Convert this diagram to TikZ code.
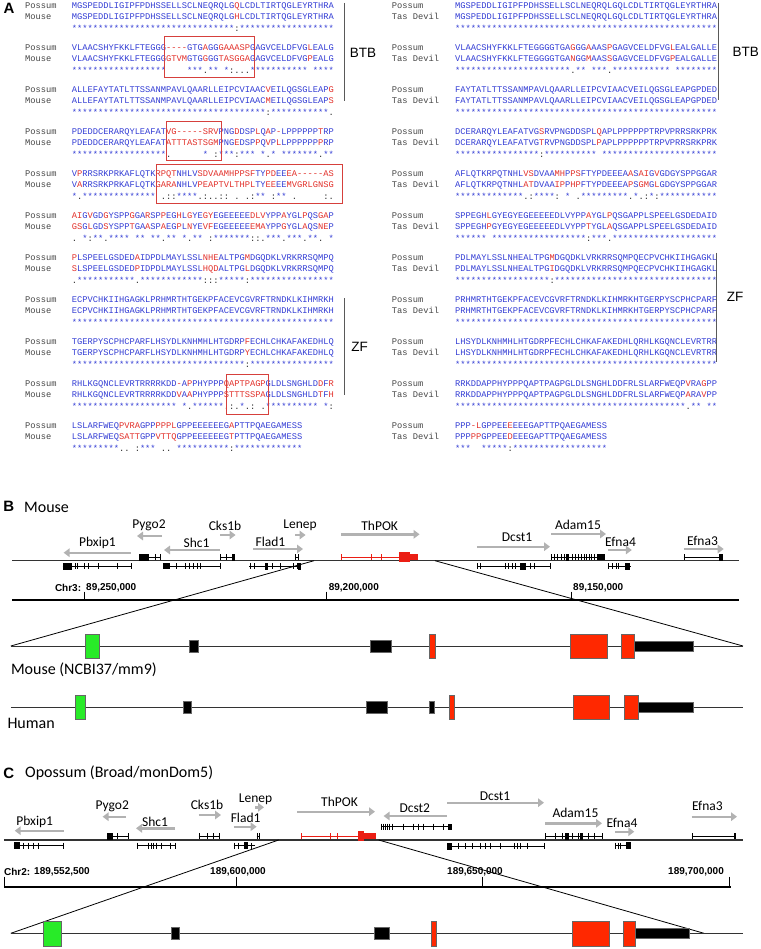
\documentclass[tikz,border=0pt]{standalone}
\usepackage{fontspec}
\setmainfont{Liberation Sans}
\setmonofont{Liberation Mono}
\newfontfamily\calfont{Carlito}
\usepackage{xcolor}
\usetikzlibrary{arrows.meta}

\definecolor{seqblue}{RGB}{50,60,212}
\definecolor{seqred}{RGB}{226,48,42}
\definecolor{consblack}{RGB}{40,40,40}
\definecolor{namegray}{RGB}{70,70,70}
\definecolor{boxred}{RGB}{214,64,60}
\definecolor{arrowgray}{RGB}{178,178,178}
\definecolor{exgreen}{RGB}{40,235,40}
\definecolor{exred}{RGB}{255,40,0}
\definecolor{thpokred}{RGB}{235,30,20}

\newcommand{\seqfont}{\ttfamily\fontsize{8.73}{10}\selectfont}
\newcommand{\rd}[1]{\textcolor{seqred}{#1}}
\newcommand{\bk}[1]{\textcolor{consblack}{#1}}
\ExplSyntaxOn
\cs_new:Npn \stars #1 { \prg_replicate:nn {#1} {*} }
\cs_new:Npn \gaps #1 { \prg_replicate:nn {#1} {\nobreakspace} }
\ExplSyntaxOff
\newcommand{\labx}{25}
\newcommand{\resx}{71.7}
% id, baseline, name, residues, name, residues, consensus
\newcommand{\alnblock}[7]{%
  \node[seqname] (#1a) at (\labx,#2) {#3};
  \node[seq] (#1b) at (\resx,#2) {#4};
  \node[seqname] (#1c) at (\labx,#2+10.5) {#5};
  \node[seq] (#1d) at (\resx,#2+10.5) {#6};
  \node[seq] (#1e) at (\resx,#2+22.5) {#7};}
% gene body: [colour] y, from, to, exon ticks
\newcommand{\genebody}[5][black]{%
  \draw[gbody,draw=#1] (#3,#2) -- (#4,#2);
  \foreach \tx in {#5} \draw[gtick,draw=#1] (\tx,#2-3) -- (\tx,#2+3);}
% coding block: [colour] y, from, to, half height
\newcommand{\exblock}[5][black]{\fill[#1] (#3,#2-#5) rectangle (#4,#2+#5);}

\begin{document}
\begin{tikzpicture}[
    x=1pt, y=-1pt,
    seq/.style={anchor=base west, inner sep=0pt, font=\seqfont, text=seqblue},
    seqname/.style={anchor=base west, inner sep=0pt, font=\seqfont, text=namegray},
    hitbox/.style={draw=boxred, line width=0.9pt},
    dombar/.style={draw=black!65, line width=0.9pt},
    domlabel/.style={font=\fontsize{13.5}{14}\selectfont, inner sep=0pt},
    panellabel/.style={font=\bfseries\fontsize{15}{16}\selectfont, inner sep=0pt},
    heading/.style={font=\calfont\fontsize{16}{17}\selectfont, anchor=west, inner sep=0pt},
    gname/.style={font=\calfont\fontsize{13.5}{14}\selectfont, inner sep=0pt},
    dirarrow/.style={draw=arrowgray, line width=2.4pt, -{Triangle[length=6pt,width=8.5pt]}},
    chrom/.style={draw=black!80, line width=1.1pt},
    scalebar/.style={draw=black, line width=2.2pt},
    scaletick/.style={draw=black, line width=0.8pt},
    coordlabel/.style={font=\bfseries\fontsize{10}{11}\selectfont, anchor=west, inner sep=0pt},
    zoomline/.style={draw=black, line width=0.8pt},
    model/.style={draw=black!80, line width=1pt},
    exon/.style={draw=black!60, line width=0.5pt},
    gbody/.style={line width=0.8pt},
    gtick/.style={line width=0.9pt}
  ]
  \useasboundingbox (0,0) rectangle (760,949);

  % Panel A, possum vs mouse
  \node[panellabel] (pa) at (9,8.7) {A};
  \alnblock{l1}{8.7}{Possum}{MGSPEDDLIGIPFPDHSSELLSCLNEQRQLG\rd{Q}LCDLTIRTQGLEYRTHRA}{Mouse}{MGSPEDDLIGIPFPDHSSELLSCLNEQRQLG\rd{H}LCDLTIRTQGLEYRTHRA}{\stars{31}\bk{:}\stars{18}}
  \alnblock{l2}{50.7}{Possum}{VLAACSHYFKKLFTEGGG\rd{----}GTG\rd{A}GG\rd{GAAASP}GAGVCELDFVG\rd{L}EALG}{Mouse}{VLAACSHYFKKLFTEGGG\rd{GTVM}GTG\rd{G}GG\rd{TASGGA}GAGVCELDFVG\rd{P}EALG}{\stars{18}\gaps{4}***\bk{.}**\gaps{1}*\bk{:...}\stars{11}\gaps{1}****}
  \alnblock{l3}{92.7}{Possum}{ALLEFAYTATLTTSSANMPAVLQAARLLEIPCVIAAC\rd{V}EILQGSGLEAP\rd{G}}{Mouse}{ALLEFAYTATLTTSSANMPAVLQAARLLEIPCVIAAC\rd{M}EILQGSGLEAP\rd{S}}{\stars{37}\bk{:}\stars{11}\bk{.}}
  \alnblock{l4}{134.7}{Possum}{PDEDDCERARQYLEAFAT\rd{VG-----SRV}PNG\rd{D}DSP\rd{L}Q\rd{A}P\rd{-}LPPPPPP\rd{T}RP}{Mouse}{PDEDDCERARQYLEAFAT\rd{ATTTASTSGM}PNG\rd{E}DSP\rd{P}Q\rd{V}P\rd{L}LPPPPPP\rd{P}RP}{\stars{18}\bk{.}\gaps{6}*\gaps{1}\bk{:}***\bk{:}***\gaps{1}*\bk{.}*\gaps{1}\stars{7}\bk{.}**}
  \alnblock{l5}{176.7}{Possum}{V\rd{P}RRSRKPRKAFLQTK\rd{RPQT}NHLV\rd{SDVAAMHPPSF}TY\rd{PD}EE\rd{EA-----AS}}{Mouse}{V\rd{A}RRSRKPRKAFLQTK\rd{GARA}NHLV\rd{PEAPTVLTHPL}TY\rd{EE}EE\rd{MVGRLGNSG}}{*\bk{.}\stars{14}\gaps{1}\bk{.::}****\bk{.:..::}\gaps{1}\bk{.}\gaps{1}\bk{.:}**\gaps{1}\bk{:}**\gaps{1}\bk{.}\gaps{5}\bk{:.}}
  \alnblock{l6}{218.7}{Possum}{\rd{AI}G\rd{V}GD\rd{G}YSPP\rd{G}GA\rd{R}SP\rd{P}EG\rd{H}L\rd{G}YE\rd{GY}EGEEEEE\rd{DLV}YPP\rd{A}YGL\rd{P}QS\rd{GA}P}{Mouse}{\rd{GS}G\rd{L}GD\rd{S}YSPP\rd{T}GA\rd{A}SP\rd{A}EG\rd{P}L\rd{N}YE\rd{VF}EGEEEEE\rd{EMA}YPP\rd{G}YGL\rd{A}QS\rd{NE}P}{\bk{.}\gaps{1}*\bk{:}**\bk{.}****\gaps{1}**\gaps{1}**\bk{.}**\gaps{1}*\bk{.}**\gaps{1}\bk{:}\stars{7}\bk{::.}***\bk{.}***\bk{.}**\bk{.}\gaps{1}*}
  \alnblock{l7}{260.7}{Possum}{\rd{P}LSPEELGSDED\rd{A}IDPDLMAYLSSL\rd{NHE}ALTPG\rd{M}DGQDKLVRKRRSQMPQ}{Mouse}{\rd{S}LSPEELGSDED\rd{P}IDPDLMAYLSSL\rd{HQD}ALTPG\rd{L}DGQDKLVRKRRSQMPQ}{\bk{.}\stars{11}\bk{.}\stars{12}\bk{:::}\stars{5}\bk{:}\stars{16}}
  \alnblock{l8}{302.7}{Possum}{ECPVCHKIIHGAGKLPRHMRTHTGEKPFACEVCGVRFTRNDKLKIHMRKH}{Mouse}{ECPVCHKIIHGAGKLPRHMRTHTGEKPFACEVCGVRFTRNDKLKIHMRKH}{\stars{50}}
  \alnblock{l9}{344.7}{Possum}{TGERPYSCPHCPARFLHSYDLKNHMHLHTGDRP\rd{F}ECHLCHKAFAKEDHLQ}{Mouse}{TGERPYSCPHCPARFLHSYDLKNHMHLHTGDRP\rd{Y}ECHLCHKAFAKEDHLQ}{\stars{33}\bk{:}\stars{16}}
  \alnblock{l10}{386.7}{Possum}{RHLKGQNCLEVRTRRRRKDD\rd{-}A\rd{P}PHYPPP\rd{QAPTPAGP}GLDLSNGHLD\rd{D}F\rd{R}}{Mouse}{RHLKGQNCLEVRTRRRRKDD\rd{V}A\rd{A}PHYPPP\rd{STTTSSPA}GLDLSNGHLD\rd{T}F\rd{H}}{\stars{20}\gaps{1}*\bk{.}\stars{6}\bk{.:.}*\bk{.:}\gaps{1}\bk{.}\stars{10}\gaps{1}*\bk{:}}
  \alnblock{l11}{428.7}{Possum}{LSLARFWEQ\rd{PVRA}GPP\rd{PPPL}GPPEEEEEEG\rd{A}PTTPQAEGAMESS}{Mouse}{LSLARFWEQ\rd{SATT}GPP\rd{VTTQ}GPPEEEEEEG\rd{T}PTTPQAEGAMESS}{\stars{9}\bk{..}\gaps{1}\bk{:}***\gaps{1}\bk{..}\gaps{1}\stars{10}\bk{:}\stars{13}}

  \draw[hitbox] (164,36.7) rectangle (254,77.7);
  \draw[hitbox] (166.7,121) rectangle (221.7,160.7);
  \draw[hitbox] (156.7,164) rectangle (342.3,203.3);
  \draw[hitbox] (226,374) rectangle (268.7,414);

  \draw[dombar] (344,3) -- (344,101);
  \node[domlabel] (btbl) at (363,52.7) {BTB};
  \draw[dombar] (344,298) -- (344,395);
  \node[domlabel] (zfl) at (359.5,346.7) {ZF};

  % Panel A, possum vs Tasmanian devil
  \renewcommand{\labx}{391.7}
  \renewcommand{\resx}{455}
  \alnblock{r1}{8.7}{Possum}{MGSPEDDLIGIPFPDHSSELLSCLNEQRQLGQLCDLTIRTQGLEYRTHRA}{Tas Devil}{MGSPEDDLIGIPFPDHSSELLSCLNEQRQLGQLCDLTIRTQGLEYRTHRA}{\stars{50}}
  \alnblock{r2}{50.7}{Possum}{VLAACSHYFKKLFTEGGGGTGA\rd{G}GG\rd{A}AAS\rd{P}GAGVCELDFVG\rd{L}EALGALLE}{Tas Devil}{VLAACSHYFKKLFTEGGGGTGA\rd{N}GG\rd{M}AAS\rd{S}GAGVCELDFVG\rd{P}EALGALLE}{\stars{22}\bk{.}**\gaps{1}***\bk{.}\stars{11}\gaps{1}\stars{8}}
  \alnblock{r3}{92.7}{Possum}{FAYTATLTTSSANMPAVLQAARLLEIPCVIAACVEILQGSGLEAPGPDED}{Tas Devil}{FAYTATLTTSSANMPAVLQAARLLEIPCVIAACVEILQGSGLEAPGPDED}{\stars{50}}
  \alnblock{r4}{134.7}{Possum}{DCERARQYLEAFATVG\rd{S}RVPNGDDSPL\rd{Q}APLPPPPPPTRPVPRRSRKPRK}{Tas Devil}{DCERARQYLEAFATVG\rd{T}RVPNGDDSPL\rd{P}APLPPPPPPTRPVPRRSRKPRK}{\stars{16}\bk{:}\stars{10}\gaps{1}\stars{22}}
  \alnblock{r5}{176.7}{Possum}{AFLQTKRPQTNHL\rd{VS}DVAA\rd{MH}P\rd{PS}FTYPDEEEA\rd{A}S\rd{AI}G\rd{V}GDGYSPPGGAR}{Tas Devil}{AFLQTKRPQTNHL\rd{AT}DVAA\rd{IP}P\rd{HP}FTYPDEEEA\rd{P}S\rd{GM}G\rd{L}GDGYSPPGGAR}{\stars{13}\bk{.:}****\bk{:}\gaps{1}*\gaps{1}\bk{.}\stars{9}\bk{.}*\bk{.:}*\bk{:}\stars{11}}
  \alnblock{r6}{218.7}{Possum}{SPPEGH\rd{L}GYEGYEGEEEEEDLVYPP\rd{A}YGL\rd{P}QSGAPPLSPEELGSDEDAID}{Tas Devil}{SPPEGH\rd{P}GYEGYEGEEEEEDLVYPP\rd{T}YGL\rd{A}QSGAPPLSPEELGSDEDAID}{\stars{6}\gaps{1}\stars{18}\bk{:}***\bk{.}\stars{20}}
  \alnblock{r7}{260.7}{Possum}{PDLMAYLSSLNHEALTPG\rd{M}DGQDKLVRKRRSQMPQECPVCHKIIHGAGKL}{Tas Devil}{PDLMAYLSSLNHEALTPG\rd{I}DGQDKLVRKRRSQMPQECPVCHKIIHGAGKL}{\stars{18}\bk{:}\stars{31}}
  \alnblock{r8}{302.7}{Possum}{PRHMRTHTGEKPFACEVCGVRFTRNDKLKIHMRKHTGERPYSCPHCPARF}{Tas Devil}{PRHMRTHTGEKPFACEVCGVRFTRNDKLKIHMRKHTGERPYSCPHCPARF}{\stars{50}}
  \alnblock{r9}{344.7}{Possum}{LHSYDLKNHMHLHTGDRPFECHLCHKAFAKEDHLQRHLKGQNCLEVRTRR}{Tas Devil}{LHSYDLKNHMHLHTGDRPFECHLCHKAFAKEDHLQRHLKGQNCLEVRTRR}{\stars{50}}
  \alnblock{r10}{386.7}{Possum}{RRKDDAPPHYPPPQAPTPAGPGLDLSNGHLDDFRLSLARFWEQP\rd{V}RA\rd{G}PP}{Tas Devil}{RRKDDAPPHYPPPQAPTPAGPGLDLSNGHLDDFRLSLARFWEQP\rd{A}RA\rd{V}PP}{\stars{44}\bk{.}**\gaps{1}**}
  \alnblock{r11}{428.7}{Possum}{PPP\rd{-L}GPPEE\rd{E}EEEGAPTTPQAEGAMESS}{Tas Devil}{PPP\rd{PP}GPPEE\rd{D}EEEGAPTTPQAEGAMESS}{***\gaps{2}\stars{5}\bk{:}\stars{18}}

  \draw[dombar] (718.3,3) -- (718.3,100);
  \node[domlabel] (btbr) at (745.8,51.7) {BTB};
  \draw[dombar] (716.7,253) -- (716.7,361.7);
  \node[domlabel] (zfr) at (735,296.7) {ZF};

  % Panel B, mouse locus
  \node[panellabel] (pb) at (8.9,506.7) {B};
  \node[heading] (hb) at (24,507) {Mouse};
  \draw[chrom] (12,560.7) -- (739,560.7);

  \draw[dirarrow] (131,552.7) -- (63.6,552.7);
  \node[gname] (bpbx) at (97.5,543.3) {Pbxip1};
  \draw[dirarrow] (162,536) -- (137,536);
  \node[gname] (bpyg) at (149,525.7) {Pygo2};
  \draw[dirarrow] (220,550) -- (164,550);
  \node[gname] (bshc) at (196.5,542.7) {Shc1};
  \draw[dirarrow] (220,535) -- (235.6,535);
  \node[gname] (bcks) at (225,525.7) {Cks1b};
  \draw[dirarrow] (253,549) -- (303,549);
  \node[gname] (bfla) at (270.5,541.7) {Flad1};
  \draw[dirarrow] (295,535) -- (305.6,535);
  \node[gname] (blen) at (300,525.7) {Lenep};
  \draw[dirarrow] (340.8,534.3) -- (419.6,534.3);
  \node[gname] (bthp) at (379.7,525.7) {ThPOK};
  \draw[dirarrow] (476.8,546.7) -- (550,546.7);
  \node[gname] (bdc1) at (517,537.3) {Dcst1};
  \draw[dirarrow] (551,534) -- (606,534);
  \node[gname] (bada) at (578,525) {Adam15};
  \draw[dirarrow] (607.8,550) -- (631.8,550);
  \node[gname] (bef4) at (620.5,542.3) {Efna4};
  \draw[dirarrow] (683.6,549) -- (723.7,549);
  \node[gname] (bef3) at (702.5,540.7) {Efna3};

  \genebody{566}{62.6}{131}{75.5,77,84,88,98,117,131}
  \exblock{566}{62.6}{72}{3.5}
  \genebody{557}{139}{161}{155,160}
  \exblock{557}{139}{149}{3.5}
  \genebody{566}{163}{220}{176,185,189,193,197,200,220}
  \exblock{566}{163}{170}{3}
  \genebody{557}{220}{235}{220.5,226}
  \exblock{557}{231.5}{235}{3.5}
  \genebody{566}{249}{301}{250,254,272,280,293,297}
  \exblock{566}{265}{268}{3.5}
  \exblock{566}{298}{301}{3.5}
  \genebody{557}{295}{299}{295.5,298.5}
  \genebody[thpokred]{557}{340.8}{411}{341,371.6,381.4}
  \exblock[thpokred]{557}{398.5}{410}{5}
  \exblock[thpokred]{557}{410}{418}{3}
  \genebody{566}{476.8}{550}{477.5,480,505,508,512,515,530,534,550}
  \exblock{566}{520}{526}{3.5}
  \genebody{557}{551}{605}{551.5,554,557,561,564,572,575,578,581,584,586.5,589,591.5,594}
  \exblock{557}{566}{569}{3.5}
  \exblock{557}{597}{605}{3}
  \genebody{566}{607.8}{630.6}{608,612,616,618.5}
  \exblock{566}{625}{630}{3.5}
  \genebody{557}{683.6}{723}{684}
  \exblock{557}{718.5}{723}{3.5}

  % scale
  \draw[scalebar] (12,600) -- (739,600);
  \foreach \sx in {84,326.6,571} \draw[scaletick] (\sx,591.7) -- (\sx,600);
  \node[coordlabel] (bchr) at (54.8,587.7) {Chr3:};
  \node[coordlabel] (bs1) at (86,587.7) {89,250,000};
  \node[coordlabel] (bs2) at (328.6,587.7) {89,200,000};
  \node[coordlabel] (bs3) at (573,587.7) {89,150,000};

  % zoom onto ThPOK
  \coordinate (bzl) at (314,560.7);
  \coordinate (bzr) at (435,560.7);
  \coordinate (mml) at (10.8,646);
  \coordinate (mmr) at (743,646);
  \draw[zoomline] (bzl) -- (mml);
  \draw[zoomline] (bzr) -- (mmr);
  \draw[model] (mml) -- (mmr);
  \filldraw[exon, fill=exgreen] (85.5,634.3) rectangle (99.2,658.7);
  \filldraw[exon, fill=black] (189.6,640.7) rectangle (198.4,652);
  \filldraw[exon, fill=black] (370,640.7) rectangle (391,652);
  \filldraw[exon, fill=exred] (429,634.3) rectangle (435,658.7);
  \filldraw[exon, fill=exred] (570.4,634.3) rectangle (607,658.7);
  \filldraw[exon, fill=exred] (620.8,634.3) rectangle (634,658.7);
  \filldraw[exon, fill=black] (634,641.7) rectangle (693,651.7);
  \node[heading] (hmm) at (10.8,670) {Mouse (NCBI37/mm9)};

  \coordinate (hml) at (10.8,707.3);
  \coordinate (hmr) at (743,707.3);
  \draw[model] (hml) -- (hmr);
  \filldraw[exon, fill=exgreen] (74.8,695.7) rectangle (85.5,719);
  \filldraw[exon, fill=black] (183,701.7) rectangle (191.6,713.3);
  \filldraw[exon, fill=black] (366.6,701.7) rectangle (387.6,713.3);
  \filldraw[exon, fill=black] (429,701.7) rectangle (434,713.3);
  \filldraw[exon, fill=exred] (449.7,695.7) rectangle (454.6,719);
  \filldraw[exon, fill=exred] (573,695.7) rectangle (609.6,719);
  \filldraw[exon, fill=exred] (624,695.7) rectangle (638,719);
  \filldraw[exon, fill=black] (638,702.7) rectangle (693,712);
  \node[heading] (hhu) at (7.3,723.3) {Human};

  % Panel C, opossum locus
  \node[panellabel] (pc) at (8.9,773) {C};
  \node[heading] (hc) at (25,773.3) {Opossum (Broad/monDom5)};
  \draw[chrom] (3.9,840) -- (743,840);

  \draw[dirarrow] (63.6,830.7) -- (14.7,830.7);
  \node[gname] (cpbx) at (34.7,821.7) {Pbxip1};
  \draw[dirarrow] (126,816.7) -- (102.6,816.7);
  \node[gname] (cpyg) at (112.3,806) {Pygo2};
  \draw[dirarrow] (175,828.3) -- (136,828.3);
  \node[gname] (cshc) at (155,821.7) {Shc1};
  \draw[dirarrow] (198.5,815) -- (221,815);
  \node[gname] (ccks) at (207,805) {Cks1b};
  \draw[dirarrow] (255,807.3) -- (264,807.3);
  \node[gname] (clen) at (255.6,799) {Lenep};
  \draw[dirarrow] (233.6,826.7) -- (256.6,826.7);
  \node[gname] (cfla) at (245.6,818.3) {Flad1};
  \draw[dirarrow] (297,811.7) -- (375,811.7);
  \node[gname] (cthp) at (339.5,801.7) {ThPOK};
  \draw[dirarrow] (447,816) -- (383.6,816);
  \node[gname] (cdc2) at (414.8,808.3) {Dcst2};
  \draw[dirarrow] (447,802.7) -- (544,802.7);
  \node[gname] (cdc1) at (495,796) {Dcst1};
  \draw[dirarrow] (545,823.3) -- (602,823.3);
  \node[gname] (cada) at (575.5,812.7) {Adam15};
  \draw[dirarrow] (615,831.7) -- (634.3,831.7);
  \node[gname] (cef4) at (622,822.7) {Efna4};
  \draw[dirarrow] (691.5,816.7) -- (737,816.7);
  \node[gname] (cef3) at (707.4,806) {Efna3};

  \genebody{845.5}{13.7}{63.6}{23,28,33,38,63.6}
  \exblock{845.5}{14}{20}{3.5}
  \genebody{836}{106.5}{128}{117,128}
  \exblock{836}{106.5}{113}{3.5}
  \genebody{845.5}{136.8}{175}{137,148,151,153.5,156,161,170,175}
  \genebody{836}{198.5}{219}{199,207,213,219}
  \genebody{845.5}{233.6}{255}{234,238,251}
  \exblock{845.5}{244}{248}{3.5}
  \genebody{836}{256.6}{260}{257,259.5}
  \genebody[thpokred]{836}{300.5}{364}{301,330,337}
  \exblock[thpokred]{836}{358}{364}{5}
  \exblock[thpokred]{836}{364}{376}{3}
  \genebody{826.7}{381}{452}{381.5,383.5,385.5,387.5,389.5,392,403,413,418,423,433,443}
  \exblock{826.7}{448}{452}{3}
  \genebody{846}{447}{544}{458,465,472,480,485,490,500,514,517,520,527,544}
  \exblock{846}{447}{452}{3.5}
  \genebody{836}{545}{602}{545.5,555,562,572,578,588,594,602}
  \exblock{836}{565}{569}{3.5}
  \exblock{836}{580}{583}{3.5}
  \genebody{845.5}{615}{631.4}{615.5,618,620.5}
  \exblock{845.5}{626}{631}{3.5}
  \genebody{836}{691.5}{735.5}{692,734,735.5}

  % scale
  \draw[scalebar] (3.9,886.7) -- (730.6,886.7);
  \foreach \sx in {3.9,236,482.4,729.6} \draw[scaletick] (\sx,876.7) -- (\sx,886.7);
  \node[coordlabel] (cchr) at (3.9,871.7) {Chr2:};
  \node[coordlabel] (cs1) at (34,871.7) {189,552,500};
  \node[coordlabel] (cs2) at (210,871.7) {189,600,000};
  \node[coordlabel] (cs3) at (447,871.7) {189,650,000};
  \node[coordlabel] (cs4) at (668,871.7) {189,700,000};

  % zoom onto ThPOK
  \coordinate (czl) at (278.6,840);
  \coordinate (czr) at (378.7,840);
  \coordinate (oml) at (10.8,933.3);
  \coordinate (omr) at (743,933.3);
  \coordinate (omz) at (704,933.3);
  \draw[zoomline] (czl) -- (oml);
  \draw[zoomline] (czr) -- (omz);
  \draw[model] (oml) -- (omr);
  \filldraw[exon, fill=exgreen] (43,921.7) rectangle (61,946.7);
  \filldraw[exon, fill=black] (171,927.7) rectangle (179.4,939.3);
  \filldraw[exon, fill=black] (374,927.7) rectangle (389.5,939.3);
  \filldraw[exon, fill=exred] (431,921.7) rectangle (436.4,946.7);
  \filldraw[exon, fill=exred] (571.8,921.7) rectangle (609,946.7);
  \filldraw[exon, fill=exred] (623,921.7) rectangle (635.3,946.7);
  \filldraw[exon, fill=black] (635.3,928.3) rectangle (689,938.3);
\end{tikzpicture}
\end{document}
